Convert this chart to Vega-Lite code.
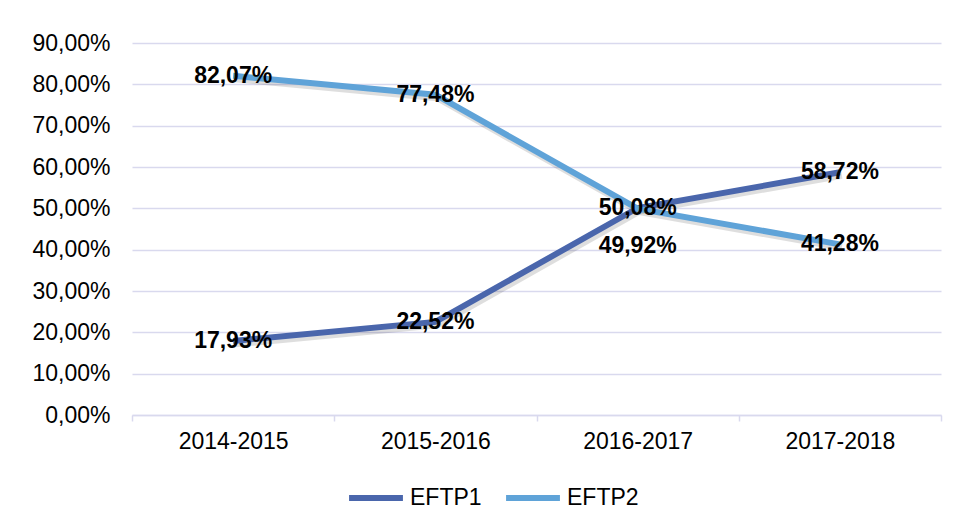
{
  "$schema": "https://vega.github.io/schema/vega-lite/v6.json",
  "width": 809,
  "height": 372,
  "padding": {"left": 31, "top": 32, "right": 14, "bottom": 5},
  "background": "white",
  "config": {
    "locale": {"number": {"decimal": ",", "thousands": ".", "grouping": [3], "currency": ["", " €"]}},
    "view": {"stroke": null},
    "font": "Liberation Sans",
    "text": {"font": "Liberation Sans"}
  },
  "data": {
    "values": [
      {"year": "2014-2015", "series": "EFTP1", "value": 0.1793},
      {"year": "2015-2016", "series": "EFTP1", "value": 0.2252},
      {"year": "2016-2017", "series": "EFTP1", "value": 0.5008},
      {"year": "2017-2018", "series": "EFTP1", "value": 0.5872},
      {"year": "2014-2015", "series": "EFTP2", "value": 0.8207},
      {"year": "2015-2016", "series": "EFTP2", "value": 0.7748},
      {"year": "2016-2017", "series": "EFTP2", "value": 0.4992},
      {"year": "2017-2018", "series": "EFTP2", "value": 0.4128}
    ]
  },
  "encoding": {
    "x": {
      "field": "year",
      "type": "ordinal",
      "bandPosition": 0.5,
      "scale": {"type": "band", "paddingInner": 0, "paddingOuter": 0},
      "axis": {
        "title": null,
        "labelAngle": 0,
        "labelFontSize": 23,
        "labelColor": "#000000",
        "labelPadding": 9,
        "domainColor": "#D9D9EE",
        "domainWidth": 1.5,
        "tickColor": "#D9D9EE",
        "tickWidth": 1.5,
        "tickSize": 6,
        "tickBand": "extent",
        "grid": false
      }
    },
    "y": {
      "field": "value",
      "type": "quantitative",
      "scale": {"domain": [0, 0.9], "nice": false},
      "axis": {
        "title": null,
        "values": [0, 0.1, 0.2, 0.3, 0.4, 0.5, 0.6, 0.7, 0.8, 0.9],
        "format": ".2%",
        "labelFontSize": 23,
        "labelColor": "#000000",
        "labelPadding": 22,
        "domain": false,
        "ticks": false,
        "grid": true,
        "gridColor": "#D9D9EE",
        "gridWidth": 1.5
      }
    }
  },
  "layer": [
    {
      "mark": {"type": "line", "stroke": "#000000", "opacity": 0.13, "strokeWidth": 7, "xOffset": 2, "yOffset": 3},
      "encoding": {"detail": {"field": "series"}}
    },
    {
      "mark": {"type": "line", "strokeWidth": 6},
      "encoding": {
        "color": {
          "field": "series",
          "type": "nominal",
          "scale": {"domain": ["EFTP1", "EFTP2"], "range": ["#4A66AC", "#5FA3D8"]},
          "legend": {
            "orient": "none",
            "legendX": 214,
            "legendY": 425,
            "direction": "horizontal",
            "title": null,
            "padding": 0,
            "symbolType": "stroke",
            "symbolSize": 2900,
            "symbolStrokeWidth": 6,
            "labelFontSize": 23,
            "labelColor": "#000000",
            "labelOffset": 4,
            "columnPadding": 12
          }
        }
      }
    },
    {
      "transform": [{"filter": "!(datum.series === 'EFTP2' && datum.year === '2016-2017')"}],
      "mark": {"type": "text", "fontSize": 23, "fontWeight": "bold", "color": "#000000"},
      "encoding": {"text": {"field": "value", "type": "quantitative", "format": ".2%"}}
    },
    {
      "transform": [{"filter": "datum.series === 'EFTP2' && datum.year === '2016-2017'"}],
      "mark": {"type": "text", "fontSize": 23, "fontWeight": "bold", "color": "#000000", "dy": 37},
      "encoding": {"text": {"field": "value", "type": "quantitative", "format": ".2%"}}
    }
  ]
}
